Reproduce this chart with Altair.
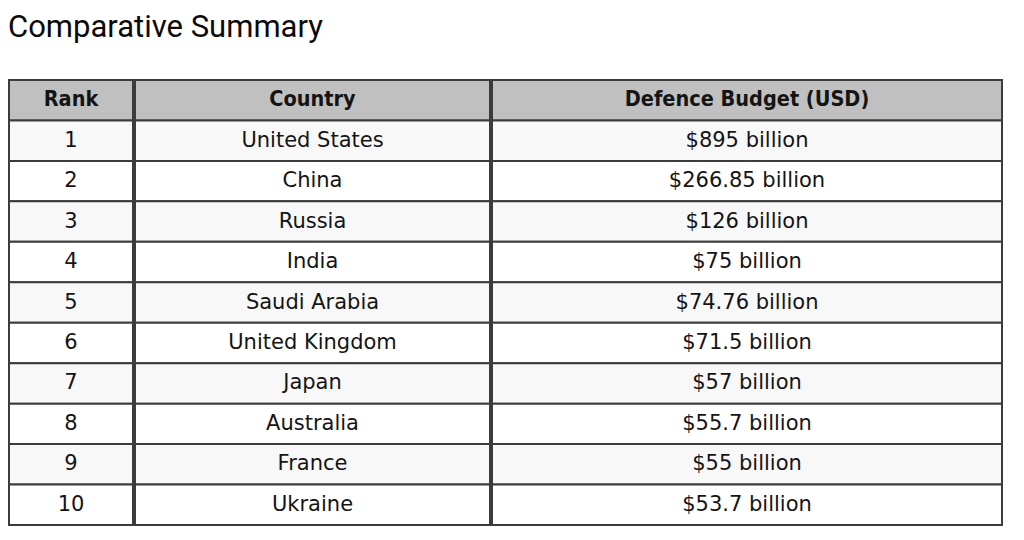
import altair as alt
import pandas as pd

title_text = "Comparative Summary"
headers = ["Rank", "Country", "Defence Budget (USD)"]
ranks = [1, 2, 3, 4, 5, 6, 7, 8, 9, 10]
countries = ["United States", "China", "Russia", "India", "Saudi Arabia",
             "United Kingdom", "Japan", "Australia", "France", "Ukraine"]
budgets = ["$895 billion", "$266.85 billion", "$126 billion", "$75 billion",
           "$74.76 billion", "$71.5 billion", "$57 billion", "$55.7 billion",
           "$55 billion", "$53.7 billion"]

col_widths = [124, 355, 510]
table_h = 445
HEAD_FONT = "DejaVu Sans Condensed"
BODY_FONT = "DejaVu Sans"


def panel(header, values, w):
    labels = [header] + [str(v) for v in values]
    kinds = ["header"] + ["odd" if i % 2 == 0 else "even" for i in range(len(values))]
    df = pd.DataFrame({"row": list(range(len(labels))), "label": labels, "kind": kinds})
    base = alt.Chart(df).encode(
        y=alt.Y("row:O", axis=None, scale=alt.Scale(paddingInner=0, paddingOuter=0))
    )
    rect = base.mark_rect(stroke="#3c3c3c", strokeWidth=2).encode(
        x=alt.value(0), x2=alt.value(w),
        fill=alt.Fill("kind:N", legend=None,
                      scale=alt.Scale(domain=["header", "odd", "even"],
                                      range=["#c0c0c0", "#f8f8f8", "#ffffff"])),
    )
    head = base.mark_text(font=HEAD_FONT, fontSize=21.5, fontWeight="bold", color="#141414",
                          baseline="middle", align="center").encode(
        x=alt.value(w / 2), text="label:N"
    ).transform_filter(alt.datum.row == 0)
    body = base.mark_text(font=BODY_FONT, fontSize=21, color="#141414",
                          baseline="middle", align="center").encode(
        x=alt.value(w / 2), text="label:N"
    ).transform_filter(alt.datum.row > 0)
    return alt.layer(rect, head, body).properties(width=w, height=table_h)


chart = alt.hconcat(
    panel(headers[0], ranks, col_widths[0]),
    panel(headers[1], countries, col_widths[1]),
    panel(headers[2], budgets, col_widths[2]),
    spacing=0,
).properties(
    padding={"left": 0, "top": 4, "right": 0, "bottom": 0},
    title=alt.Title(title_text, anchor="start", font="Roboto", fontSize=31,
                    fontWeight="normal", color="#0a0a0a", offset=35),
).configure_view(stroke=None)

chart.save("out.html", embed_options={"renderer": "svg", "actions": False})
